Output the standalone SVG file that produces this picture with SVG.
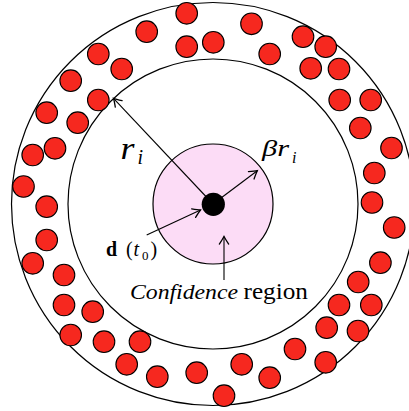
<svg xmlns="http://www.w3.org/2000/svg" width="409" height="411" viewBox="0 0 409 411">
<style>
.ring{fill:none;stroke:#000;stroke-width:1.2}
.p{fill:#f6281f;stroke:#000;stroke-width:1.1}
.conn{fill:none;stroke:#000;stroke-width:1.1}
</style>
<defs>
<marker id="arr" markerUnits="userSpaceOnUse" markerWidth="14" markerHeight="14" viewBox="-8 -6 10 12" refX="0" refY="0" orient="auto">
<path d="M-6.5 -4 Q-2 -1 0 0 Q-2 1 -6.5 4" fill="none" stroke="#000" stroke-width="1.1" stroke-linecap="round"/>
</marker>
</defs>
<rect width="409" height="411" fill="#fff"/>
<g id="outer-ring"><circle class="ring" cx="213" cy="204" r="201.5"/></g>
<g id="inner-ring"><circle class="ring" cx="213" cy="204" r="145"/></g>
<g id="particles">
<circle class="p" cx="186.7" cy="13.3" r="10.8"/>
<circle class="p" cx="146.7" cy="31.7" r="10.8"/>
<circle class="p" cx="186.7" cy="46.7" r="10.8"/>
<circle class="p" cx="213.3" cy="42.3" r="10.8"/>
<circle class="p" cx="251.5" cy="23.8" r="10.8"/>
<circle class="p" cx="269.7" cy="54" r="10.8"/>
<circle class="p" cx="303" cy="36.7" r="10.8"/>
<circle class="p" cx="325.7" cy="46.7" r="10.8"/>
<circle class="p" cx="310.7" cy="68.3" r="10.8"/>
<circle class="p" cx="339" cy="69" r="10.8"/>
<circle class="p" cx="339.7" cy="100" r="10.8"/>
<circle class="p" cx="370.7" cy="100" r="10.8"/>
<circle class="p" cx="360.3" cy="128" r="10.8"/>
<circle class="p" cx="391.5" cy="148" r="10.8"/>
<circle class="p" cx="374.3" cy="173" r="10.8"/>
<circle class="p" cx="372" cy="202.5" r="10.8"/>
<circle class="p" cx="394.2" cy="227.5" r="10.8"/>
<circle class="p" cx="380.4" cy="262.7" r="10.8"/>
<circle class="p" cx="358.2" cy="282" r="10.8"/>
<circle class="p" cx="339" cy="305" r="10.8"/>
<circle class="p" cx="371.3" cy="305" r="10.8"/>
<circle class="p" cx="326.7" cy="327.7" r="10.8"/>
<circle class="p" cx="358" cy="331" r="10.8"/>
<circle class="p" cx="295" cy="349" r="10.8"/>
<circle class="p" cx="325.7" cy="362.3" r="10.8"/>
<circle class="p" cx="241.7" cy="364.3" r="10.8"/>
<circle class="p" cx="269.7" cy="377.7" r="10.8"/>
<circle class="p" cx="224" cy="395.7" r="10.8"/>
<circle class="p" cx="196.7" cy="372.7" r="10.8"/>
<circle class="p" cx="157.3" cy="376.7" r="10.8"/>
<circle class="p" cx="126.7" cy="364.3" r="10.8"/>
<circle class="p" cx="140" cy="341.7" r="10.8"/>
<circle class="p" cx="104" cy="341.7" r="10.8"/>
<circle class="p" cx="70.7" cy="335" r="10.8"/>
<circle class="p" cx="92.7" cy="311.7" r="10.8"/>
<circle class="p" cx="64" cy="305" r="10.8"/>
<circle class="p" cx="64" cy="275" r="10.8"/>
<circle class="p" cx="32.7" cy="263.3" r="10.8"/>
<circle class="p" cx="46.7" cy="240" r="10.8"/>
<circle class="p" cx="46.7" cy="206.7" r="10.8"/>
<circle class="p" cx="23.5" cy="186.5" r="10.8"/>
<circle class="p" cx="32.7" cy="155" r="10.8"/>
<circle class="p" cx="55" cy="148.3" r="10.8"/>
<circle class="p" cx="46.7" cy="112.7" r="10.8"/>
<circle class="p" cx="77.7" cy="122.7" r="10.8"/>
<circle class="p" cx="98.3" cy="100" r="10.8"/>
<circle class="p" cx="70.7" cy="80.7" r="10.8"/>
<circle class="p" cx="98.3" cy="54" r="10.8"/>
<circle class="p" cx="121.7" cy="69" r="10.8"/>
</g>
<g id="confidence-region"><circle cx="213" cy="204" r="60" fill="#fcdcf6" stroke="#000" stroke-width="1.2"/></g>
<g id="connectors">
<line class="conn" x1="213" y1="204" x2="113.5" y2="98.3" marker-end="url(#arr)"/>
<line class="conn" x1="213" y1="204" x2="257.3" y2="170.7" marker-end="url(#arr)"/>
<line class="conn" x1="146.7" y1="235" x2="200.5" y2="210" marker-end="url(#arr)"/>
<line class="conn" x1="224" y1="280" x2="224" y2="236.5" marker-end="url(#arr)"/>
</g>
<g id="position-dot"><circle cx="213.3" cy="204.3" r="11.6" fill="#000"/></g>
<g id="labels" font-family="Liberation Serif" fill="#000">
<text x="120.5" y="158.5" font-size="31" font-style="italic" textLength="14" lengthAdjust="spacingAndGlyphs">r</text>
<text x="137.5" y="163.5" font-size="20" font-style="italic">i</text>
<text x="262" y="155.5" font-size="24" font-style="italic" textLength="27" lengthAdjust="spacingAndGlyphs">βr</text>
<text x="292" y="162.5" font-size="16" font-style="italic">i</text>
<text x="106" y="256" font-size="20" font-weight="bold">d</text>
<text x="126" y="256" font-size="20">(</text>
<text x="133.5" y="256" font-size="20" font-style="italic">t</text>
<text x="142" y="259.5" font-size="13">0</text>
<text x="150.5" y="256" font-size="20">)</text>
<text x="130" y="299.3" font-size="22" font-style="italic" textLength="108" lengthAdjust="spacingAndGlyphs">Confidence</text>
<text x="243.5" y="299.3" font-size="23" textLength="64.5" lengthAdjust="spacingAndGlyphs">region</text>
</g>
</svg>
